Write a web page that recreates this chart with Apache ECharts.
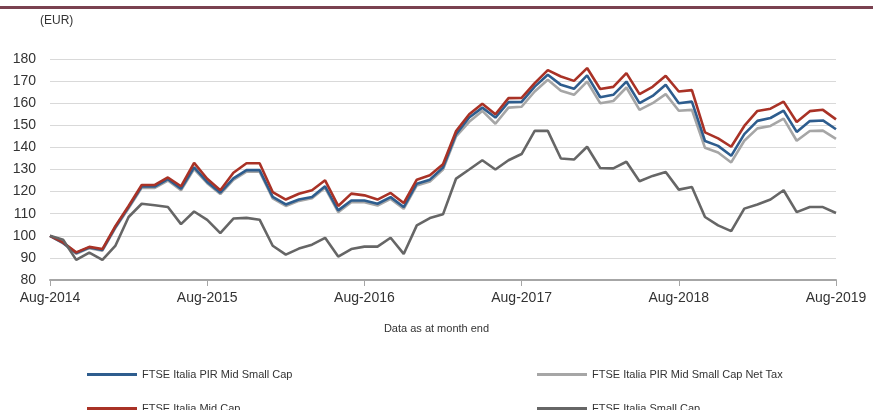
<!DOCTYPE html>
<html>
<head>
<meta charset="utf-8">
<script src="https://cdn.jsdelivr.net/npm/echarts@6/dist/echarts.min.js"></script>
<style>
  html, body { margin: 0; padding: 0; background: #fff; }
  #chart { width: 873px; height: 410px; }
</style>
</head>
<body>
<div id="chart"></div>
<script>
// monthly, Aug-2014 .. Aug-2019
var months = [
  'Aug-2014','Sep-2014','Oct-2014','Nov-2014','Dec-2014','Jan-2015','Feb-2015','Mar-2015','Apr-2015','May-2015','Jun-2015','Jul-2015',
  'Aug-2015','Sep-2015','Oct-2015','Nov-2015','Dec-2015','Jan-2016','Feb-2016','Mar-2016','Apr-2016','May-2016','Jun-2016','Jul-2016',
  'Aug-2016','Sep-2016','Oct-2016','Nov-2016','Dec-2016','Jan-2017','Feb-2017','Mar-2017','Apr-2017','May-2017','Jun-2017','Jul-2017',
  'Aug-2017','Sep-2017','Oct-2017','Nov-2017','Dec-2017','Jan-2018','Feb-2018','Mar-2018','Apr-2018','May-2018','Jun-2018','Jul-2018',
  'Aug-2018','Sep-2018','Oct-2018','Nov-2018','Dec-2018','Jan-2019','Feb-2019','Mar-2019','Apr-2019','May-2019','Jun-2019','Jul-2019',
  'Aug-2019'
]

var pirMidSmall = [
  100, 96.8, 92.2, 94.7, 93.6, 104, 113, 122.3, 122.3, 125.6, 121.3, 131,
  124.4, 119.5, 126, 129.7, 129.7, 117.6, 114.2, 116.4, 117.6, 122.4, 111.5, 116,
  116, 114.5, 117.5, 113, 123.6, 125.4, 130.9, 146, 153.5, 158, 153.5, 160.5,
  160.6, 167.5, 172.9, 168.3, 166.5, 172.6, 162.7, 163.8, 169.8, 160, 163.3, 168.3,
  160, 160.7, 142.9, 140.7, 136.2, 146, 152, 153.3, 156.6, 147, 151.9, 152.2,
  148.2
]

var pirNetTax = [
  100, 96.6, 91.9, 94.4, 93.3, 103.6, 112.5, 121.7, 121.7, 125, 120.6, 130.2,
  123.8, 118.9, 125.3, 129, 129, 116.9, 113.5, 115.8, 117, 121.7, 110.7, 115.2,
  115.2, 113.7, 116.7, 112.2, 122.8, 124.6, 130, 145, 151.6, 156.5, 150.7, 158,
  158.4, 165.3, 170.6, 165.6, 163.8, 169.8, 160, 161, 167.1, 157, 160, 164.1,
  156.6, 157, 139.8, 137.7, 133.2, 143, 148.6, 149.7, 153, 143, 147.4, 147.6,
  143.9
]

var midCap = [
  100, 97, 92.5, 95, 94, 104.5, 113.5, 123, 123, 126.4, 122.4, 133,
  125.8, 120.6, 128.5, 132.8, 132.8, 119.8, 116.4, 119, 120.6, 125.1, 113.5, 119.1,
  118.3, 116.4, 119.4, 114.8, 125.4, 127.4, 132.4, 147.4, 155, 159.8, 155, 162.3,
  162.4, 169.1, 175, 172.1, 170.1, 175.9, 166.4, 167.4, 173.6, 164.1, 167.4, 172.4,
  165.3, 165.9, 146.8, 144.1, 140.3, 149.7, 156.5, 157.5, 160.7, 151.5, 156.4, 157,
  152.7
]

var smallCap = [
  100, 98.2, 89.1, 92.4, 89.1, 95.6, 108.5, 114.5, 113.8, 113, 105.3, 111,
  107.2, 101.2, 107.8, 108.1, 107.3, 95.5, 91.5, 94.2, 96, 99.1, 90.6, 94,
  95.1, 95.1, 99.1, 91.8, 104.7, 108, 109.7, 125.9, 130, 134.2, 130, 134.2,
  137, 147.5, 147.5, 135, 134.5, 140.3, 130.7, 130.5, 133.5, 124.7, 127.1, 128.9,
  120.9, 122.1, 108.5, 104.7, 102.1, 112.3, 114.2, 116.4, 120.6, 110.7, 113, 113,
  110.3
]

var FONT = 'Liberation Sans, Arial, sans-serif'

var chart = echarts.init(document.getElementById('chart'), null, {renderer: 'canvas'})

function line(name, data, color) {
  return {
    name: name,
    type: 'line',
    data: data,
    symbol: 'none',
    lineStyle: {color: color, width: 2.6},
    itemStyle: {color: color},
    animation: false
  }
}

function legendAt(name, left, top) {
  return {
    data: [name],
    left: left,
    top: top,
    icon: 'rect',
    itemWidth: 50,
    itemHeight: 3,
    textStyle: {fontFamily: FONT, fontSize: 11, color: '#333'},
    selectedMode: false
  }
}

var option = {
  backgroundColor: '#fff',
  textStyle: {fontFamily: FONT},
  grid: {left: 50, right: 37, top: 59, bottom: 130, containLabel: false},
  graphic: [
    {type: 'rect', left: 0, top: 6, shape: {width: 873, height: 3}, style: {fill: '#7a4150'}},
    {type: 'text', left: 40, top: 15, style: {text: '(EUR)', font: '12px ' + FONT, fill: '#333'}},
    {type: 'text', left: 'center', top: 323, style: {text: 'Data as at month end', font: '11px ' + FONT, fill: '#333'}}
  ],
  legend: [
    legendAt('FTSE Italia PIR Mid Small Cap', 82, 364),
    legendAt('FTSE Italia PIR Mid Small Cap Net Tax', 532, 364),
    legendAt('FTSE Italia Mid Cap', 82, 398),
    legendAt('FTSE Italia Small Cap', 532, 398)
  ],
  xAxis: {
    type: 'category',
    data: months,
    boundaryGap: false,
    axisLine: {lineStyle: {color: '#a6a6a6', width: 2}},
    axisTick: {interval: 11, length: 6, lineStyle: {color: '#a6a6a6', width: 1}},
    axisLabel: {interval: 11, margin: 11, fontFamily: FONT, fontSize: 14, color: '#333'},
    splitLine: {show: false}
  },
  yAxis: {
    type: 'value',
    min: 80,
    max: 180,
    interval: 10,
    axisLine: {show: false},
    axisTick: {show: false},
    axisLabel: {margin: 14, fontFamily: FONT, fontSize: 14, color: '#333'},
    splitLine: {lineStyle: {color: '#d9d9d9', width: 1}}
  },
  series: [
    line('FTSE Italia PIR Mid Small Cap Net Tax', pirNetTax, '#a6a6a6'),
    line('FTSE Italia PIR Mid Small Cap', pirMidSmall, '#2e5d8e'),
    line('FTSE Italia Mid Cap', midCap, '#a93226'),
    line('FTSE Italia Small Cap', smallCap, '#666666')
  ]
}

chart.setOption(option)
</script>
</body>
</html>
